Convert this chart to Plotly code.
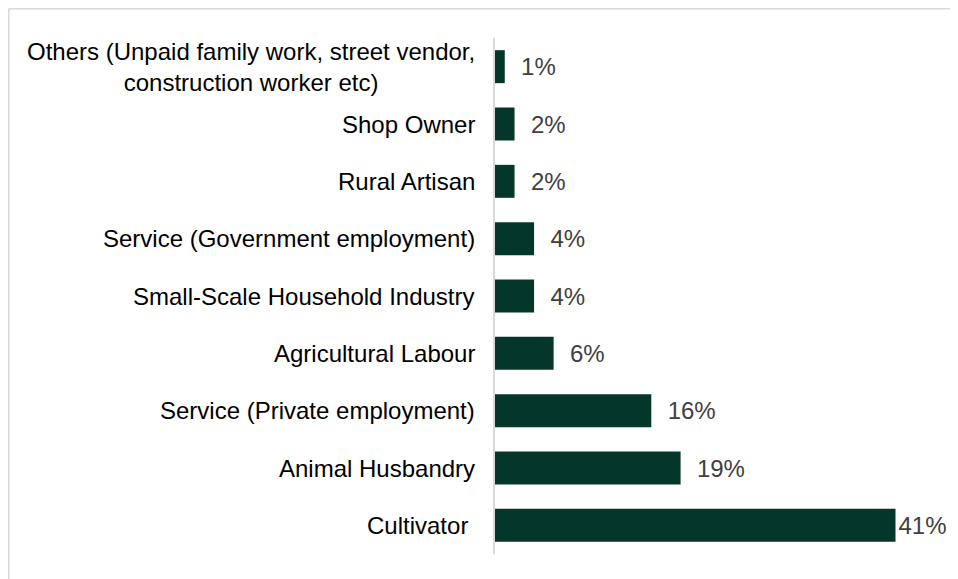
import plotly.graph_objects as go

categories = [
    "Cultivator\u00a0",
    "Animal Husbandry",
    "Service (Private employment)",
    "Agricultural Labour",
    "Small-Scale Household Industry",
    "Service (Government employment)",
    "Rural Artisan",
    "Shop Owner",
    "Others (Unpaid family work, street vendor,<br>construction worker etc)",
]
values = [41, 19, 16, 6, 4, 4, 2, 2, 1]
value_labels = ["41%", "19%", "16%", "6%", "4%", "4%", "2%", "2%", "1%"]

# page body has an 8px margin, so the figure starts at (8, 8)
W, H = 950, 571
ML, MR, MT, MB = 487, 0, 30, 25
PW = W - ML - MR
PH = H - MT - MB
FONT = "Liberation Sans, Arial, sans-serif"
FS = 24

pads = ["" if v >= 40 else "\u00a0\u00a0" for v in values]

fig = go.Figure()
fig.add_trace(go.Bar(
    x=values,
    y=list(range(len(categories))),
    orientation="h",
    marker=dict(color="#04362a", line=dict(width=0)),
    text=[p + t for p, t in zip(pads, value_labels)],
    textposition="outside",
    textfont=dict(family=FONT, size=FS, color="#404040"),
    cliponaxis=False,
    width=0.575,
    hoverinfo="skip",
))

for i, c in enumerate(categories):
    fig.add_annotation(
        x=0, xref="paper", y=i, yref="y",
        text=c, showarrow=False, xanchor="right", yanchor="middle",
        xshift=-18, align="center",
        font=dict(family=FONT, size=FS, color="#000000"),
    )

def px_x(p):
    return (p - ML) / PW

def px_y(p):
    return 1 - (p - MT) / PH

# outer chart border (top and left edges visible)
fig.add_shape(type="line", xref="paper", yref="paper",
              x0=px_x(0.75), x1=px_x(W), y0=px_y(0.75), y1=px_y(0.75),
              line=dict(color="#d9d9d9", width=1.5))
fig.add_shape(type="line", xref="paper", yref="paper",
              x0=px_x(0.75), x1=px_x(0.75), y0=px_y(0.75), y1=px_y(H),
              line=dict(color="#d9d9d9", width=1.5))

fig.update_layout(
    width=W, height=H,
    margin=dict(l=ML, r=MR, t=MT, b=MB),
    plot_bgcolor="white", paper_bgcolor="white",
    showlegend=False,
    xaxis=dict(range=[0, 47.4], visible=False, fixedrange=True),
    yaxis=dict(range=[-0.5, len(categories) - 0.5], showticklabels=False,
               showgrid=False, zeroline=False, showline=True,
               linecolor="#d9d9d9", linewidth=1.5, ticks=""),
)

fig.write_html("out.html")
